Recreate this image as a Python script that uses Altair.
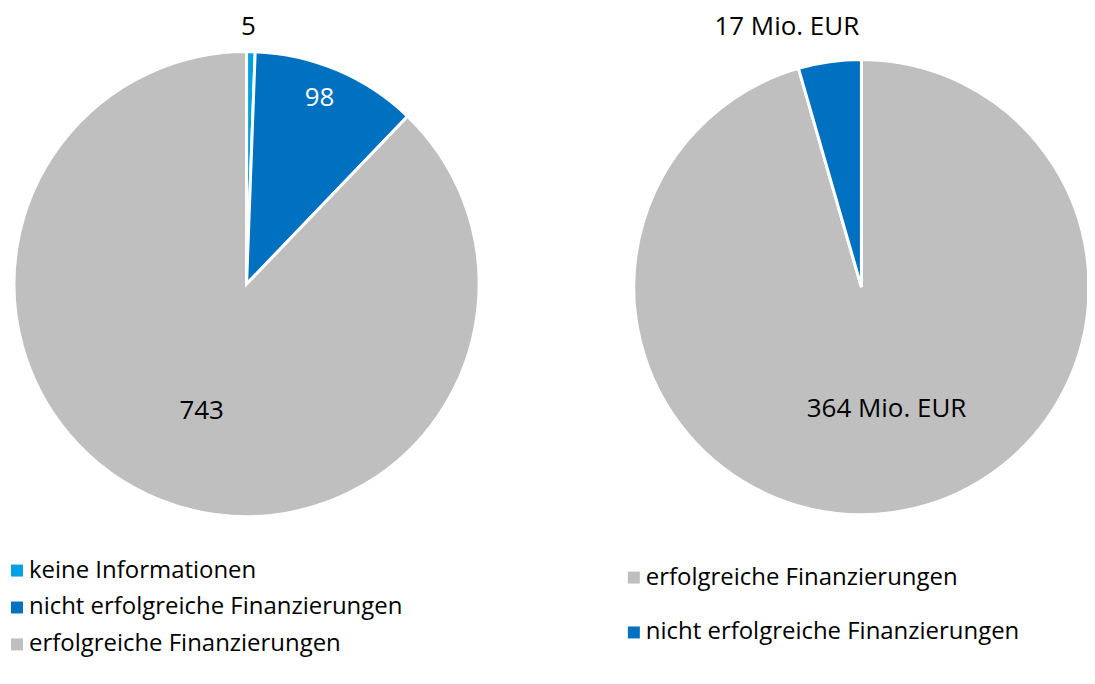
import altair as alt
import pandas as pd

# ---- data ----
left_categories = ["keine Informationen", "nicht erfolgreiche Finanzierungen", "erfolgreiche Finanzierungen"]
left_values = [5, 98, 743]
left_labels = ["5", "98", "743"]

right_categories = ["erfolgreiche Finanzierungen", "nicht erfolgreiche Finanzierungen"]
right_values = [364, 17]
right_labels = ["364 Mio. EUR", "17 Mio. EUR"]

# ---- styles ----
C_LIGHT = "#00A0E4"
C_BLUE = "#0070C0"
C_GRAY = "#BFBFBF"
left_colors = [C_LIGHT, C_BLUE, C_GRAY]
right_colors = [C_GRAY, C_BLUE]
FONT = "Open Sans"

left_df = pd.DataFrame({"category": left_categories, "value": left_values,
                        "label": left_labels, "order": list(range(len(left_values)))})
right_df = pd.DataFrame({"category": right_categories, "value": right_values,
                         "label": right_labels, "order": list(range(len(right_values)))})


def pie(df, cats, colors, outer, legend_x, legend_y, row_pad):
    base = alt.Chart(df).encode(
        theta=alt.Theta("value:Q", stack=True),
        order=alt.Order("order:Q"),
    )
    arc = base.mark_arc(outerRadius=outer, stroke="white", strokeWidth=3).encode(
        color=alt.Color(
            "category:N",
            sort=cats,
            scale=alt.Scale(domain=cats, range=colors),
            legend=alt.Legend(
                orient="none", legendX=legend_x, legendY=legend_y, title=None,
                symbolType="square", symbolSize=144, symbolStrokeWidth=0,
                symbolOffset=-6,
                labelFontSize=24, labelFont=FONT, labelColor="black",
                labelOffset=0, rowPadding=row_pad, padding=0, offset=0,
                direction="vertical", labelLimit=600,
            ),
        )
    )
    return base, arc


def label_layer(base, cat, radius, color, dx=0, dy=0):
    return base.mark_text(radius=radius, fontSize=26, font=FONT, color=color, dx=dx, dy=dy).encode(
        text=alt.when(alt.datum.category == cat).then(alt.Text("label:N")).otherwise(alt.value("")),
    )


lbase, larc = pie(left_df, left_categories, left_colors, 233, 1, 551, 13)
left = alt.layer(
    larc,
    label_layer(lbase, "keine Informationen", 258, "black", dx=-3),
    label_layer(lbase, "nicht erfolgreiche Finanzierungen", 200, "white", dx=-5, dy=-2),
    label_layer(lbase, "erfolgreiche Finanzierungen", 134, "black", dx=5, dy=3),
).properties(width=474, height=552)

rbase, rarc = pie(right_df, right_categories, right_colors, 228, 6, 558, 31)
right = alt.layer(
    rarc,
    label_layer(rbase, "erfolgreiche Finanzierungen", 123, "black", dx=8),
    label_layer(rbase, "nicht erfolgreiche Finanzierungen", 263, "black", dx=-38),
).properties(width=480, height=558)

chart = (
    alt.hconcat(left, right, spacing=137)
    .resolve_scale(color="independent")
    .properties(padding={"left": 0, "top": 0, "right": -14, "bottom": 3})
    .configure_view(stroke=None)
)

chart.save("out.html", embed_options={"renderer": "svg", "actions": False})
